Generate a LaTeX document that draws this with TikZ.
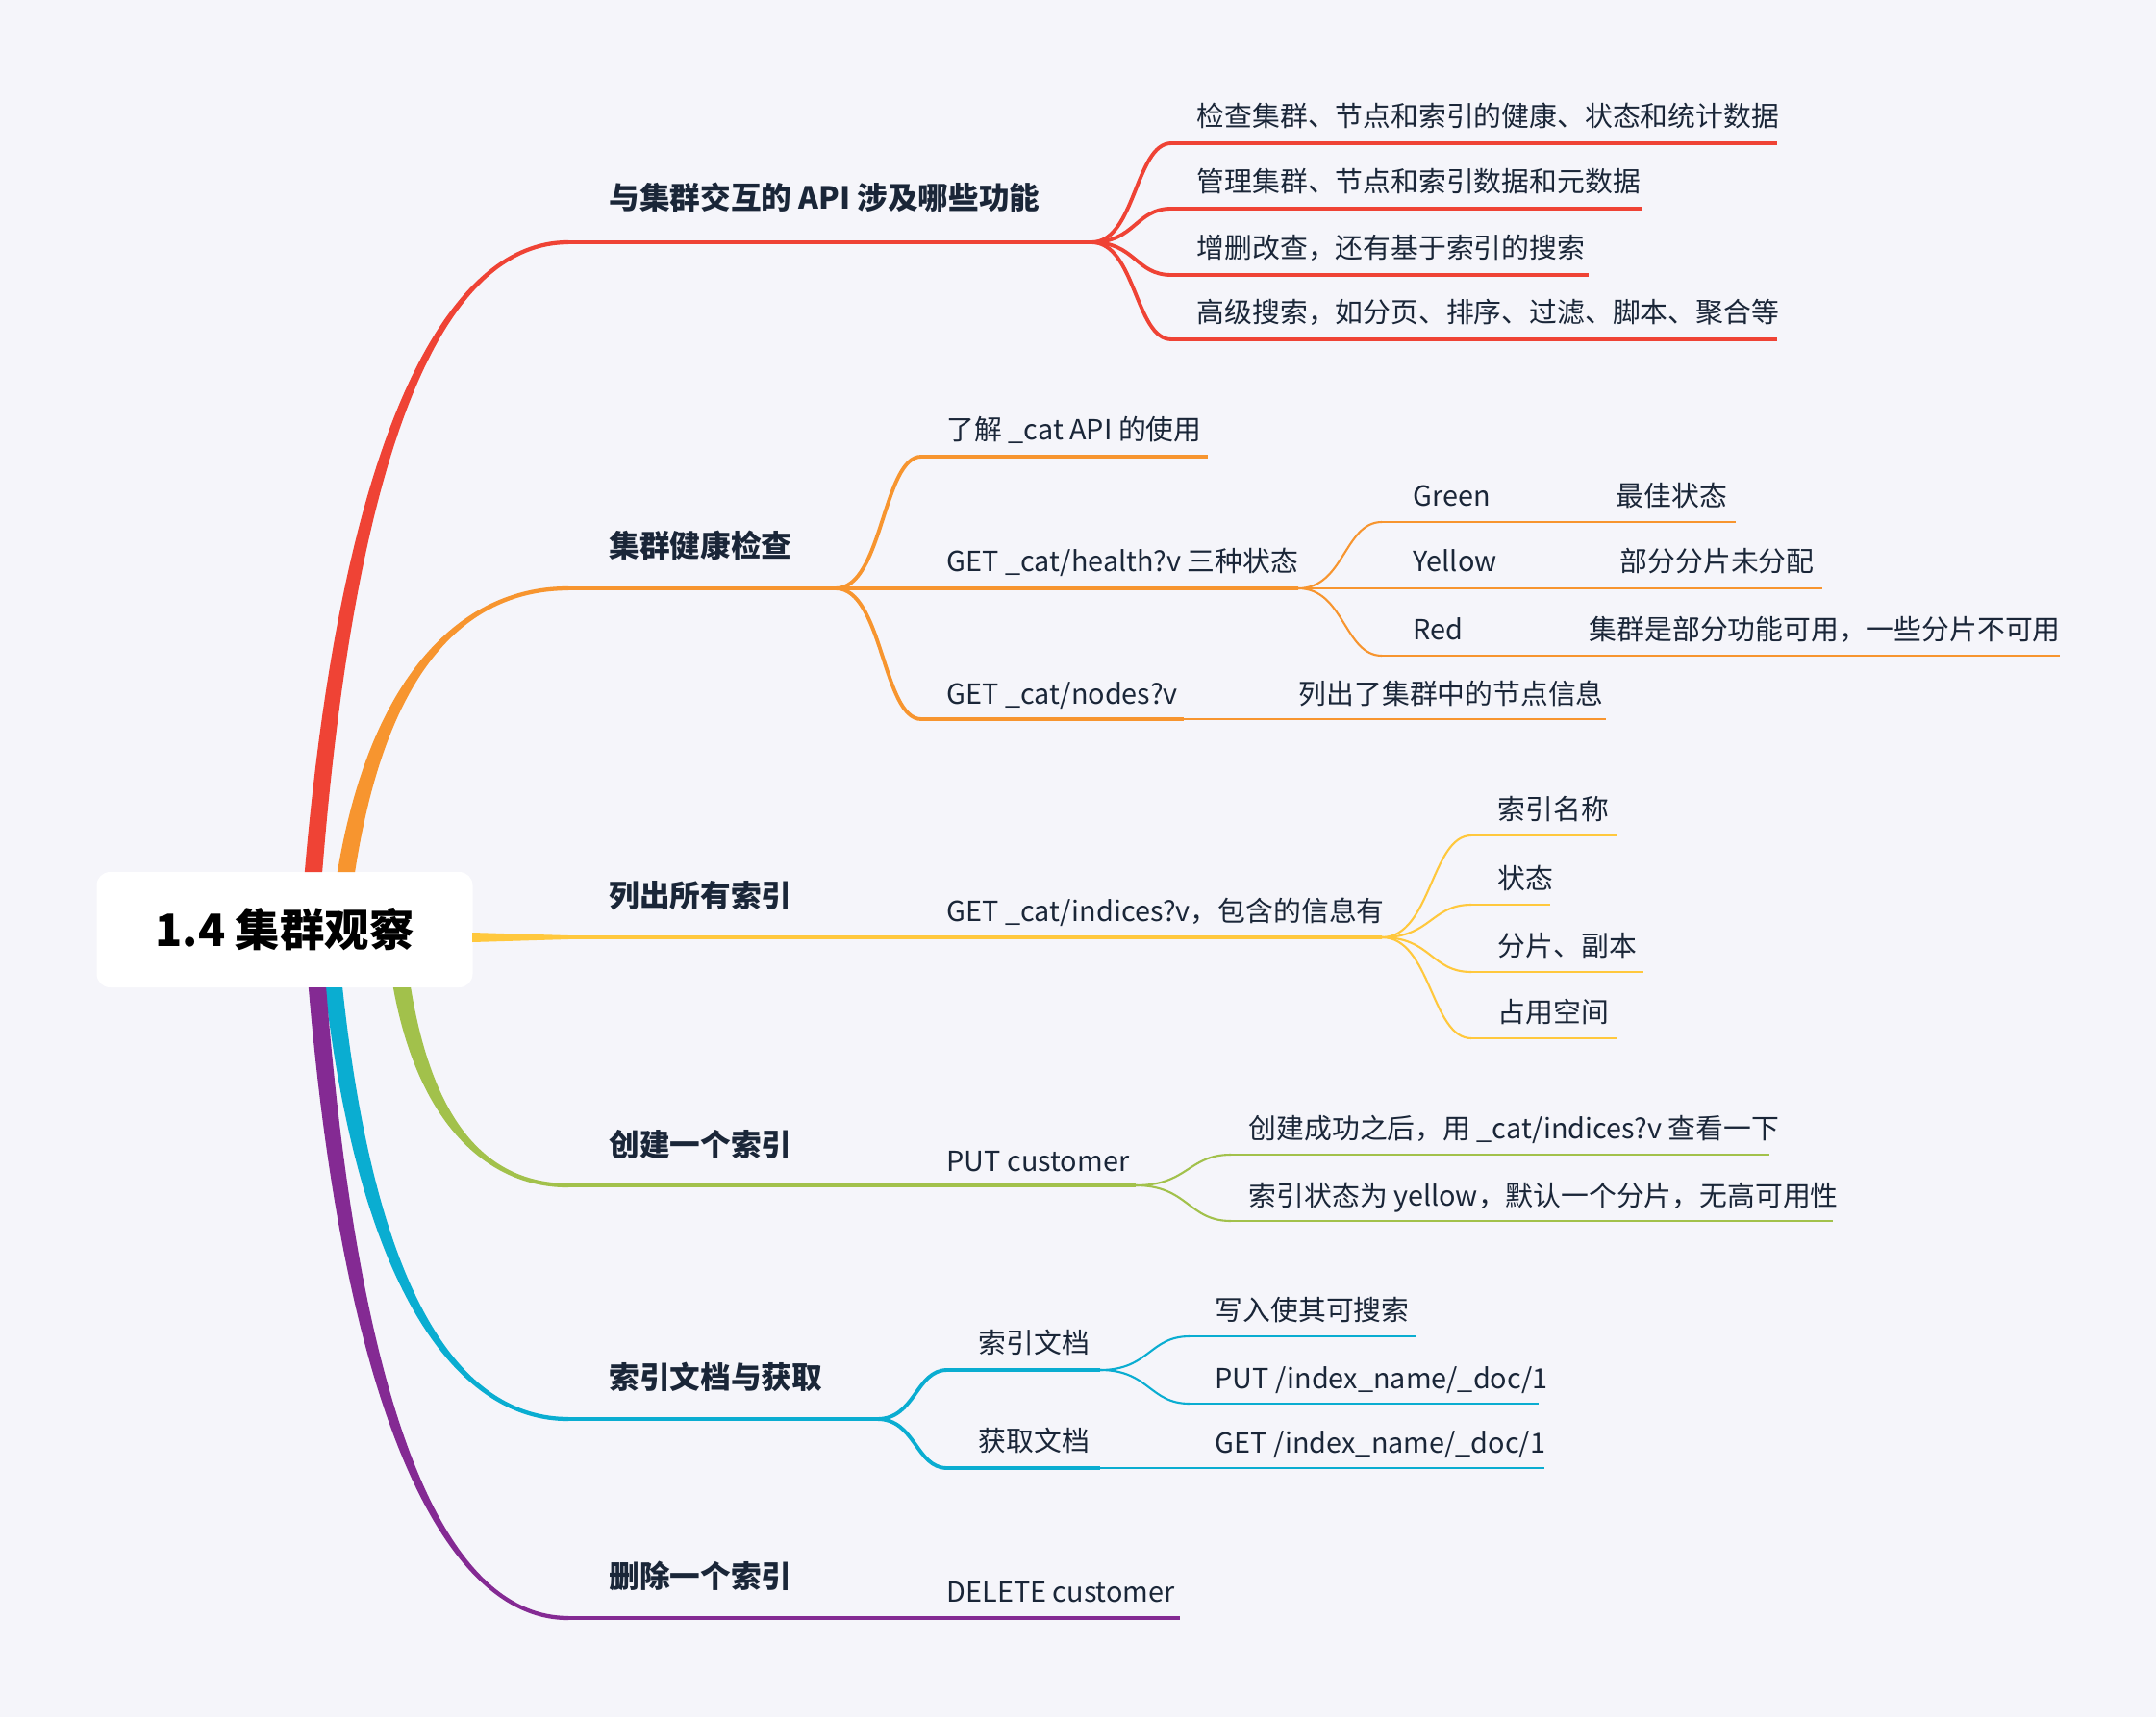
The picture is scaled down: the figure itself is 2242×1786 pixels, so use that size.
\documentclass[tikz,border=0pt]{standalone}
\usepackage{fontspec}
\setmainfont{Noto Sans CJK SC}
\usetikzlibrary{calc}
\definecolor{bg}{HTML}{F5F5FA}
\definecolor{ink}{HTML}{1A2638}
\definecolor{cred}{HTML}{EF4335}
\definecolor{corange}{HTML}{F7952F}
\definecolor{cyellow}{HTML}{FFC83D}
\definecolor{cgreen}{HTML}{A2C14B}
\definecolor{cblue}{HTML}{0AADD1}
\definecolor{cpurple}{HTML}{842A93}
% tapered main branch: colour, exit on root, topic start, 1 up / -1 down
\newcommand{\trunk}[4]{%
  \fill[#1] let \p1=(#2), \p2=(#3) in
    ({\x1-2.6pt},\y1) .. controls ({0.85*\x1+0.15*\x2-2.2pt},{0.27*(\y1)+0.73*(\y2)}) and ({0.45*\x1+0.55*\x2},{\y2+(#4)*0.7pt}) .. (\x2,{\y2+(#4)*0.6pt})
    -- (\x2,{\y2-(#4)*0.6pt}) .. controls ({0.45*\x1+0.55*\x2},{\y2-(#4)*0.7pt}) and ({0.85*\x1+0.15*\x2+2.2pt},{0.27*(\y1)+0.73*(\y2)}) .. ({\x1+2.6pt},\y1) -- cycle;}
% s-shaped link from a parent end to a child start
\newcommand{\fan}[3]{%
  \draw[#1] let \p1=(#2), \p2=(#3) in
    (#2) .. controls ({0.45*\x1+0.55*\x2},\y1) and ({0.45*\x1+0.55*\x2},\y2) .. (#3);}
\tikzset{
  root/.style={fill=white,rounded corners=1.4mm,minimum width=39.1mm,minimum height=12mm,
    font=\fontsize{13.2}{16}\selectfont\bfseries,text=black},
  topic/.style={font=\fontsize{9}{11}\selectfont\bfseries,text=ink,anchor=base west,inner sep=0pt},
  leaf/.style={font=\fontsize{8.2}{10}\selectfont,text=ink,anchor=base west,inner sep=0pt},
  thickline/.style={line width=1.1pt},
  thinline/.style={line width=0.6pt},
}
\begin{document}
\begin{tikzpicture}[x=0.1mm,y=-0.1mm]
  \fill[bg] (0,0) rectangle (2242,1786);
  \useasboundingbox (0,0) rectangle (2242,1786);
  \node[root] (root) at (296,967) {1.4 集群观察};
  % exits on the root box
  \coordinate (xr) at (326,907);
  \coordinate (xo) at (360,907);
  \coordinate (xy) at (491,975);
  \coordinate (xg) at (418,1027);
  \coordinate (xb) at (347,1027);
  \coordinate (xp) at (330,1027);

  % red
  \coordinate (t1s) at (591,252);
  \coordinate (t1e) at (1135,252);
  \trunk{cred}{xr}{t1s}{1}
  \draw[cred,thickline] (t1s) -- (t1e);
  \node[topic] (t1) at (633,218) {与集群交互的 API 涉及哪些功能};
  \foreach \i/\yy/\e/\t in {1/149/1848/检查集群、节点和索引的健康、状态和统计数据,
                            2/217/1707/管理集群、节点和索引数据和元数据,
                            3/286/1652/增删改查，还有基于索引的搜索,
                            4/353/1848/高级搜索，如分页、排序、过滤、脚本、聚合等} {
    \coordinate (a\i s) at (1218,\yy);
    \coordinate (a\i e) at (\e,\yy);
    \fan{cred,thickline}{t1e}{a\i s}
    \draw[cred,thickline] (a\i s) -- (a\i e);
    \node[leaf] (a\i) at (1244,\yy-17) {\t};
  }

  % orange
  \coordinate (t2s) at (591,612);
  \coordinate (t2e) at (869,612);
  \trunk{corange}{xo}{t2s}{1}
  \draw[corange,thickline] (t2s) -- (t2e);
  \node[topic] (t2) at (633,580) {集群健康检查};
  \coordinate (b1s) at (958,475);  \coordinate (b1e) at (1256,475);
  \coordinate (b2s) at (958,612);  \coordinate (b2e) at (1350,612);
  \coordinate (b3s) at (958,748);  \coordinate (b3e) at (1231,748);
  \foreach \i in {1,2,3} {
    \fan{corange,thickline}{t2e}{b\i s}
    \draw[corange,thickline] (b\i s) -- (b\i e);
  }
  \node[leaf] (b1) at (984,458) {了解 \_cat API 的使用};
  \node[leaf] (b2) at (984,595) {GET \_cat/health?v 三种状态};
  \node[leaf] (b3) at (984,732) {GET \_cat/nodes?v};
  \coordinate (b3ae) at (1670,748);
  \draw[corange,thinline] (b3e) -- (b3ae);
  \node[leaf] (b3a) at (1350,732) {列出了集群中的节点信息};
  \foreach \i/\yy/\m/\e/\s/\t/\u in {1/543/1659/1805/Green/1680/最佳状态,
                                     2/612/1659/1895/Yellow/1684/部分分片未分配,
                                     3/682/1630/2142/Red/1652/集群是部分功能可用，一些分片不可用} {
    \coordinate (c\i s) at (1437,\yy);
    \coordinate (c\i m) at (\m,\yy);
    \coordinate (c\i e) at (\e,\yy);
    \fan{corange,thinline}{b2e}{c\i s}
    \draw[corange,thinline] (c\i s) -- (c\i m);
    \draw[corange,thinline] (c\i m) -- (c\i e);
    \node[leaf] (c\i) at (1469,\yy-17) {\s};
    \node[leaf] (c\i a) at (\t,\yy-17) {\u};
  }

  % yellow
  \coordinate (t3s) at (591,975);
  \coordinate (t3e) at (869,975);
  \fill[cyellow] ($(xy)+(0,-5)$) -- ($(t3s)+(0,-2)$) -- ($(t3s)+(0,2)$) -- ($(xy)+(0,5)$) -- cycle;
  \draw[cyellow,thickline] (t3s) -- (t3e);
  \node[topic] (t3) at (633,943) {列出所有索引};
  \coordinate (d0e) at (1437,975);
  \draw[cyellow,thickline] (t3e) -- (d0e);
  \node[leaf] (d0) at (984,958) {GET \_cat/indices?v，包含的信息有};
  \foreach \i/\yy/\e/\t in {1/869/1682/索引名称, 2/941/1612/状态,
                            3/1011/1709/分片、副本, 4/1080/1682/占用空间} {
    \coordinate (d\i s) at (1530,\yy);
    \coordinate (d\i e) at (\e,\yy);
    \fan{cyellow,thinline}{d0e}{d\i s}
    \draw[cyellow,thinline] (d\i s) -- (d\i e);
    \node[leaf] (d\i) at (1557,\yy-17) {\t};
  }

  % green
  \coordinate (t4s) at (591,1233);
  \coordinate (t4e) at (869,1233);
  \trunk{cgreen}{xg}{t4s}{-1}
  \draw[cgreen,thickline] (t4s) -- (t4e);
  \node[topic] (t4) at (633,1202) {创建一个索引};
  \coordinate (e0e) at (1181,1233);
  \draw[cgreen,thickline] (t4e) -- (e0e);
  \node[leaf] (e0) at (984,1218) {PUT customer};
  \coordinate (e1s) at (1280,1201);  \coordinate (e1e) at (1840,1201);
  \coordinate (e2s) at (1280,1270);  \coordinate (e2e) at (1906,1270);
  \foreach \i in {1,2} {
    \fan{cgreen,thinline}{e0e}{e\i s}
    \draw[cgreen,thinline] (e\i s) -- (e\i e);
  }
  \node[leaf] (e1) at (1298,1184) {创建成功之后，用 \_cat/indices?v 查看一下};
  \node[leaf] (e2) at (1298,1254) {索引状态为 yellow，默认一个分片，无高可用性};

  % blue
  \coordinate (t5s) at (591,1476);
  \coordinate (t5e) at (912,1476);
  \trunk{cblue}{xb}{t5s}{-1}
  \draw[cblue,thickline] (t5s) -- (t5e);
  \node[topic] (t5) at (633,1444) {索引文档与获取};
  \coordinate (f1s) at (985,1425);  \coordinate (f1e) at (1144,1425);
  \coordinate (f2s) at (985,1527);  \coordinate (f2e) at (1144,1527);
  \foreach \i in {1,2} {
    \fan{cblue,thickline}{t5e}{f\i s}
    \draw[cblue,thickline] (f\i s) -- (f\i e);
  }
  \node[leaf] (f1) at (1017,1407) {索引文档};
  \node[leaf] (f2) at (1017,1509) {获取文档};
  \coordinate (f1as) at (1237,1390);  \coordinate (f1ae) at (1472,1390);
  \coordinate (f1bs) at (1237,1460);  \coordinate (f1be) at (1600,1460);
  \foreach \i in {a,b} {
    \fan{cblue,thinline}{f1e}{f1\i s}
    \draw[cblue,thinline] (f1\i s) -- (f1\i e);
  }
  \node[leaf] (f1a) at (1263,1373) {写入使其可搜索};
  \node[leaf] (f1b) at (1263,1444) {PUT /index\_name/\_doc/1};
  \coordinate (f2ae) at (1606,1527);
  \draw[cblue,thinline] (f2e) -- (f2ae);
  \node[leaf] (f2a) at (1263,1511) {GET /index\_name/\_doc/1};

  % purple
  \coordinate (t6s) at (591,1683);
  \coordinate (t6e) at (869,1683);
  \trunk{cpurple}{xp}{t6s}{-1}
  \draw[cpurple,thickline] (t6s) -- (t6e);
  \node[topic] (t6) at (633,1651) {删除一个索引};
  \coordinate (g1e) at (1227,1683);
  \draw[cpurple,thickline] (t6e) -- (g1e);
  \node[leaf] (g1) at (984,1666) {DELETE customer};
\end{tikzpicture}
\end{document}
